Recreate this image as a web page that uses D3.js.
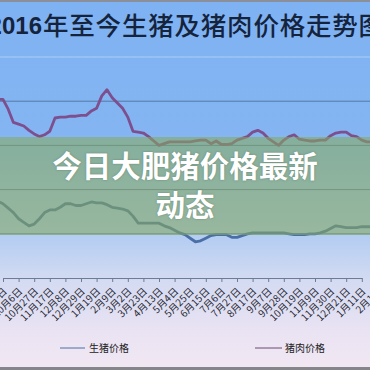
<!DOCTYPE html>
<html>
<head>
<meta charset="utf-8">
<script src="https://cdn.jsdelivr.net/npm/d3@7"></script>
<style>
  html, body { margin: 0; padding: 0; background: #fff; }
  svg { display: block; }
</style>
</head>
<body>
<div id="chart"></div>
<script>
// Weekly prices (yuan/kg), first entry is the week before 9月15日
const livePigPrice = [
  18.7, 18.4, 17.9, 17.4, 16.7, 16.3, 15.9, 16.1, 16.7, 17.4,
  17.7, 17.7, 18.0, 18.4, 18.4, 18.2, 18.2, 18.4, 18.6, 18.5,
  18.5, 18.3, 18.0, 17.9, 17.8, 17.6, 17.0, 16.2, 16.2, 16.2,
  16.2, 16.2, 15.9, 15.7, 15.4, 15.1, 14.9, 14.5, 14.1, 14.2,
  14.5, 14.8, 14.9, 14.9, 14.9, 14.6, 14.6, 14.8, 15.0, 15.1,
  15.1, 15.1, 15.1, 15.1, 15.1, 15.1, 15.0, 14.9, 14.9, 14.9,
  15.0, 15.0, 15.1, 15.3, 15.6, 15.9, 15.8, 15.7, 15.7, 15.7,
  15.8, 15.8, 15.8
];
const porkPrice = [
  30.2, 30.2, 29.1, 27.6, 27.4, 27.2, 26.7, 26.3, 26.0, 26.2,
  26.6, 28.1, 28.2, 28.2, 28.3, 28.3, 28.4, 28.4, 28.9, 29.2,
  30.6, 31.3, 30.4, 29.8, 29.2, 28.2, 26.6, 26.5, 26.4, 26.0,
  25.5, 25.0, 25.2, 25.4, 25.4, 25.4, 25.4, 25.4, 25.5, 25.6,
  25.6, 25.2, 25.5, 25.1, 25.1, 25.2, 25.6, 25.8, 26.0, 26.5,
  26.7, 26.4, 25.8, 25.4, 25.0, 25.6, 26.0, 26.2, 25.7, 25.6,
  25.5, 25.5, 25.6, 25.6, 26.1, 26.4, 26.5, 26.5, 26.1, 26.0,
  25.6, 25.4, 25.4
];
const firstWeek = -1;   // week index of the first value (9月15日 = week 0)
const weeksPerTick = 3;
const tickLabels = [
  "9月15日", "10月6日", "10月27日", "11月17日", "12月8日", "12月29日",
  "1月19日", "2月9日", "3月2日", "3月23日", "4月13日", "5月4日",
  "5月25日", "6月15日", "7月6日", "7月27日", "8月17日", "9月7日",
  "9月28日", "10月19日", "11月9日", "11月30日", "12月21日", "1月11日", "2月1日"
];
const gridValues = [15, 20, 25, 30];
const seriesNames = ["生猪价格", "猪肉价格"];
const titleYear = "2016";
const titleRest = "年至今生猪及猪肉价格走势图";
const bannerLines = ["今日大肥猪价格最新", "动态"];

const W = 370, H = 370;
const cjk = "'Noto Sans CJK SC', 'Noto Sans', sans-serif";

const svg = d3.select("#chart").append("svg")
  .attr("width", W).attr("height", H);

// background gradient: sky blue fading to lavender
const defs = svg.append("defs");
const bg = defs.append("linearGradient").attr("id", "bg")
  .attr("x1", 0).attr("y1", 0).attr("x2", 0).attr("y2", 1);
[[0, "#7fb2f3"], [0.36, "#84b5f2"], [0.64, "#b4cdf2"], [0.76, "#d4dbf2"],
 [0.9, "#eae3f3"], [1, "#f2e8f3"]].forEach(([o, c]) =>
  bg.append("stop").attr("offset", o).attr("stop-color", c));
svg.append("rect").attr("width", W).attr("height", H).attr("fill", "url(#bg)");

// scales
const x = d3.scaleLinear().domain([0, 69]).range([3, 361.8]);
const y = d3.scaleLinear().domain([10, 35]).range([278, 57]);

// plot-area top edge
svg.append("line").attr("x1", 0).attr("x2", W)
  .attr("y1", y(35)).attr("y2", y(35))
  .attr("stroke", "#a9cdf6").attr("stroke-width", 1.2);

// gridlines
svg.append("g").selectAll("line").data(gridValues).join("line")
  .attr("x1", 0).attr("x2", W)
  .attr("y1", d => y(d)).attr("y2", d => y(d))
  .attr("stroke", "#45638c").attr("stroke-opacity", 0.75).attr("stroke-width", 1);

// x axis
const tickVals = tickLabels.map((_, i) => i * weeksPerTick);
const axis = svg.append("g").attr("transform", `translate(0,${y(10)})`)
  .call(d3.axisBottom(x).tickValues(tickVals)
    .tickFormat((d, i) => tickLabels[i]).tickSize(4).tickSizeOuter(0));
axis.select(".domain").attr("stroke", "#6b7c93").attr("stroke-width", 1.2);
axis.selectAll(".tick line").attr("stroke", "#6b7c93");
axis.selectAll(".tick text")
  .attr("font-family", cjk).attr("font-size", 10).attr("fill", "#2a2a35")
  .attr("text-anchor", "end")
  .attr("dy", 0).attr("y", 0)
  .attr("transform", "translate(4,14) rotate(-45)");

// lines
const line = d3.line()
  .x((d, i) => x(firstWeek + i))
  .y(d => y(d));
svg.append("path").datum(porkPrice).attr("d", line)
  .attr("fill", "none").attr("stroke", "#7e4f8e").attr("stroke-width", 2.8)
  .attr("stroke-linejoin", "round");
svg.append("path").datum(livePigPrice).attr("d", line)
  .attr("fill", "none").attr("stroke", "#4a6fa8").attr("stroke-width", 2.8)
  .attr("stroke-linejoin", "round");

// title
svg.append("text").attr("x", 42).attr("y", 34).attr("text-anchor", "end")
  .attr("font-family", "'Liberation Sans', Arial, sans-serif")
  .attr("font-weight", 700).attr("font-size", 24).attr("fill", "#15243d")
  .text(titleYear);
svg.append("text").attr("x", 43).attr("y", 34.5)
  .attr("font-family", cjk).attr("font-weight", 500)
  .attr("font-size", 25.5).attr("letter-spacing", 0.8).attr("fill", "#15243d")
  .text(titleRest);

// legend
const legend = [
  { name: seriesNames[0], x0: 60, x1: 85, tx: 89, color: "#4a6fa8" },
  { name: seriesNames[1], x0: 255, x1: 282, tx: 285, color: "#6a4a72" }
];
const lg = svg.append("g");
legend.forEach(l => {
  lg.append("line").attr("x1", l.x0).attr("x2", l.x1)
    .attr("y1", 348).attr("y2", 348)
    .attr("stroke", l.color).attr("stroke-width", 1);
  lg.append("text").attr("x", l.tx).attr("y", 352)
    .attr("font-family", cjk).attr("font-size", 10).attr("fill", "#222")
    .text(l.name);
});

// banner overlay
svg.append("rect").attr("x", 0).attr("y", 137).attr("width", W).attr("height", 98)
  .attr("fill", "rgb(132,168,96)").attr("fill-opacity", 0.58);
svg.append("g").selectAll("text").data(bannerLines).join("text")
  .attr("x", W / 2).attr("y", (d, i) => 176.5 + i * 39)
  .attr("text-anchor", "middle")
  .attr("font-family", cjk).attr("font-weight", 700).attr("font-size", 29.5)
  .attr("fill", "#ffffff")
  .style("text-shadow", "0 0 2px rgba(60,80,60,0.5)")
  .text(d => d);

// frame edges
svg.append("rect").attr("x", 0).attr("y", 0).attr("width", W).attr("height", 2)
  .attr("fill", "#8a8f99");
svg.append("rect").attr("x", 0).attr("y", 367).attr("width", W).attr("height", 3)
  .attr("fill", "#85858a");
</script>
</body>
</html>
